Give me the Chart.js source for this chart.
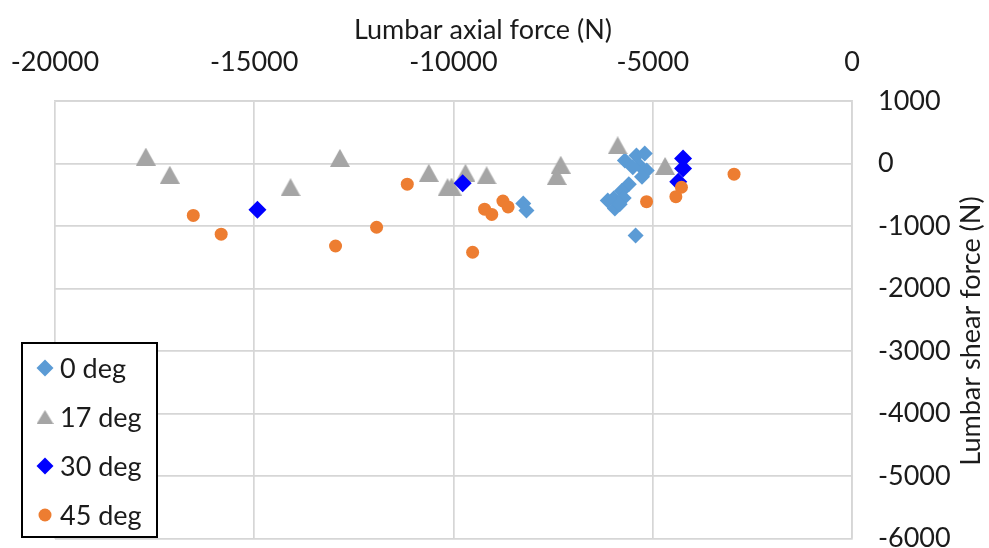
<!DOCTYPE html>
<html>
<head>
<meta charset="utf-8">
<script src="https://cdn.jsdelivr.net/npm/chart.js@4/dist/chart.umd.min.js"></script>
<style>
  html, body { margin: 0; padding: 0; background: #fff; }
  #wrap { width: 989px; height: 548px; }
</style>
</head>
<body>
<div id="wrap"><canvas id="c" width="989" height="548"></canvas></div>
<script>
// Lumbar axial vs. shear force, by trunk angle
const seriesNames = ['0 deg', '17 deg', '30 deg', '45 deg'];

const axial0 = [-8250, -8170, -5700, -5410, -5200, -5320, -5150, -5270, -5500, -5600, -5780, -5980, -5730, -6130, -5950, -5830, -5430];
const shear0 = [-640, -750, 50, 130, 160, -40, -110, -210, -60, -330, -440, -560, -550, -590, -720, -650, -1150];

const axial17 = [-17720, -17120, -14090, -12850, -10620, -10150, -10050, -9700, -9170, -7310, -7410, -5880, -4690];
const shear17 = [110, -180, -380, 90, -150, -380, -370, -150, -190, -20, -200, 290, -40];

const axial30 = [-14920, -9770, -4240, -4240, -4360];
const shear30 = [-740, -315, 80, -80, -290];

const axial45 = [-16530, -15830, -12960, -11160, -11930, -8760, -8630, -9220, -9040, -9520, -4280, -4420, -5155, -2960];
const shear45 = [-830, -1130, -1320, -330, -1020, -600, -695, -730, -815, -1420, -380, -530, -610, -170];

const xTicks = [-20000, -15000, -10000, -5000, 0];
const yTicks = [1000, 0, -1000, -2000, -3000, -4000, -5000, -6000];

const xTitle = 'Lumbar axial force (N)';
const yTitle = 'Lumbar shear force (N)';

const FONT = 'Lato, "Open Sans", sans-serif';
const FONT_SIZE = 27;
const TEXT = '#1b1b1b';
const GRID = '#d6d6d6';

const colors = ['#5B9BD5', '#A5A5A5', '#0000FF', '#ED7D31'];

// Upright triangle marker whose bounding box is centred on the point
function triangleMarker(w, h, color) {
  const cv = document.createElement('canvas');
  cv.width = w; cv.height = h;
  const g = cv.getContext('2d');
  g.fillStyle = color;
  g.beginPath();
  g.moveTo(w / 2, 0);
  g.lineTo(w, h);
  g.lineTo(0, h);
  g.closePath();
  g.fill();
  return cv;
}

const triChart = triangleMarker(20, 18, colors[1]);
const triLegend = triangleMarker(17, 14, colors[1]);

function pts(xs, ys) { return xs.map((x, i) => ({ x: x, y: ys[i] })); }

const markerStyles = [
  { pointStyle: 'rectRot', radius: 8, legendStyle: 'rectRot', legendRadius: 8.5 },
  { pointStyle: triChart, radius: 10, legendStyle: triLegend, legendRadius: 8 },
  { pointStyle: 'rectRot', radius: 9, legendStyle: 'rectRot', legendRadius: 8.5 },
  { pointStyle: 'circle', radius: 6.5, legendStyle: 'circle', legendRadius: 6.5 }
];

const seriesData = [pts(axial0, shear0), pts(axial17, shear17), pts(axial30, shear30), pts(axial45, shear45)];

const datasets = seriesNames.map((name, i) => ({
  label: name,
  data: seriesData[i],
  backgroundColor: colors[i],
  borderWidth: 0,
  pointStyle: markerStyles[i].pointStyle,
  pointRadius: markerStyles[i].radius,
  pointHoverRadius: markerStyles[i].radius,
  pointBorderWidth: 0,
  order: seriesNames.length - i
}));

// white page behind the plot
const background = {
  id: 'background',
  beforeDraw(chart) {
    const ctx = chart.ctx;
    ctx.save();
    ctx.fillStyle = '#fff';
    ctx.fillRect(0, 0, chart.width, chart.height);
    ctx.restore();
  }
};

// axis titles: x centred over the figure, y reading bottom-to-top at the right
const axisTitles = {
  id: 'axisTitles',
  afterDraw(chart) {
    const ctx = chart.ctx;
    ctx.save();
    ctx.fillStyle = TEXT;
    ctx.font = FONT_SIZE + 'px ' + FONT;
    ctx.textAlign = 'center';
    ctx.textBaseline = 'middle';
    ctx.fillText(xTitle, 483, 30);
    ctx.translate(971, 331);
    ctx.rotate(-Math.PI / 2);
    ctx.fillText(yTitle, 0, 0);
    ctx.restore();
  }
};

// boxed legend in the lower-left corner of the plot
const boxedLegend = {
  id: 'boxedLegend',
  afterDatasetsDraw(chart) {
    const ctx = chart.ctx;
    const left = 22, top = 343, w = 135, h = 194;
    ctx.save();
    ctx.fillStyle = '#fff';
    ctx.fillRect(left, top, w, h);
    ctx.strokeStyle = '#000';
    ctx.lineWidth = 2;
    ctx.strokeRect(left, top, w, h);
    ctx.font = FONT_SIZE + 'px ' + FONT;
    ctx.textAlign = 'left';
    ctx.textBaseline = 'middle';
    chart.data.datasets.forEach((ds, i) => {
      const y = 368 + i * 49;
      ctx.fillStyle = ds.backgroundColor;
      Chart.helpers.drawPoint(ctx, {
        pointStyle: markerStyles[i].legendStyle,
        radius: markerStyles[i].legendRadius,
        rotation: 0,
        borderWidth: 0
      }, 45, y);
      ctx.fillStyle = TEXT;
      ctx.fillText(ds.label, 60, y + 1);
    });
    ctx.restore();
  }
};

// fixed axis bands, without extra room for overhanging end labels
function fixBand(s, size) {
  if (s.isHorizontal()) { s.height = size; } else { s.width = size; }
  s.paddingLeft = 0; s.paddingRight = 0; s.paddingTop = 0; s.paddingBottom = 0;
}

new Chart(document.getElementById('c'), {
  type: 'scatter',
  data: { datasets: datasets },
  plugins: [background, boxedLegend, axisTitles],
  options: {
    responsive: false,
    animation: false,
    devicePixelRatio: 1,
    layout: { padding: { left: 55, right: 0, top: 0, bottom: 9.5 }, autoPadding: false },
    plugins: { legend: { display: false }, tooltip: { enabled: false } },
    scales: {
      x: {
        type: 'linear',
        position: 'top',
        min: -20000,
        max: 0,
        afterBuildTicks(s) { s.ticks = xTicks.map(v => ({ value: v })); },
        afterFit(s) { fixBand(s, 101); },
        ticks: {
          color: TEXT,
          font: { family: FONT, size: FONT_SIZE },
          padding: 23,
          maxRotation: 0,
          callback: v => String(v)
        },
        grid: { color: GRID, lineWidth: 1.7, drawTicks: false },
        border: { color: GRID, width: 1.7 }
      },
      y: {
        type: 'linear',
        position: 'right',
        min: -6000,
        max: 1000,
        afterBuildTicks(s) { s.ticks = yTicks.map(v => ({ value: v })); },
        afterFit(s) { fixBand(s, 137); },
        ticks: {
          color: TEXT,
          font: { family: FONT, size: FONT_SIZE },
          padding: 26,
          callback: v => String(v)
        },
        grid: { color: GRID, lineWidth: 1.7, drawTicks: false },
        border: { color: GRID, width: 1.7 }
      }
    }
  }
});
</script>
</body>
</html>
